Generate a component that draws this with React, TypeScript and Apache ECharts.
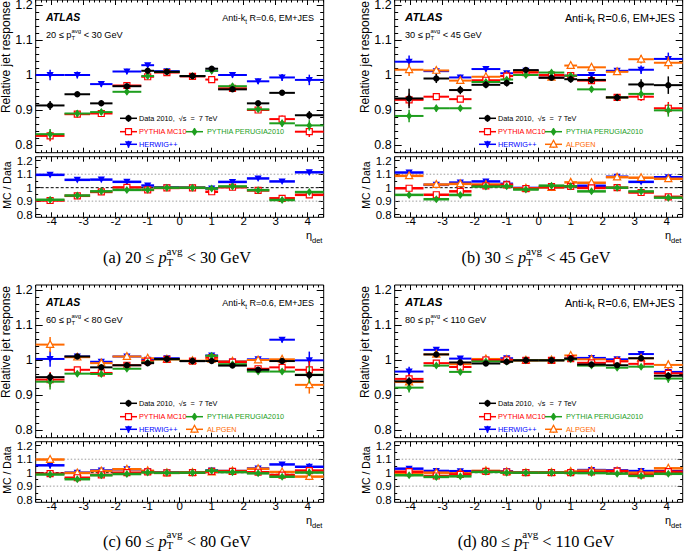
import React, { useEffect, useRef } from "react";
import * as echarts from "echarts";

// ---------------- data ----------------
const binEdges = [-4.5, -3.6, -2.8, -2.1, -1.2, -0.8, 0, 0.8, 1.2, 2.1, 2.8, 3.6, 4.5];
const binCenters = [-4.05, -3.2, -2.45, -1.65, -1.0, -0.4, 0.4, 1.0, 1.65, 2.45, 3.2, 4.05];

const xTickValues = [-4, -3, -2, -1, 0, 1, 2, 3, 4];
const yTickValues = [0.8, 0.9, 1.0, 1.1, 1.2];
const ratioGuideLines = [0.9, 1.1];
const ratioUnityLine = [1.0];

const panelLetters = ["(a)", "(b)", "(c)", "(d)"];
const ptLow = [20, 30, 60, 80];
const ptHigh = [30, 45, 80, 110];

// panel (a) 20-30 GeV
const dataA = [0.913, 0.945, 0.919, 0.968, 1.012, 1.009, 0.997, 1.018, 0.959, 0.919, 0.949, 0.885];
const dataErrA = [0.013, 0.005, 0.008, 0.006, 0.005, 0.004, 0.004, 0.006, 0.006, 0.006, 0.005, 0.012];
const herwigA = [1.0, 1.0, 0.974, 1.01, 1.028, 1.011, 0.997, 1.012, 1.0, 0.982, 0.993, 0.986];
const mc10A = [0.826, 0.888, 0.89, 0.97, 0.995, 1.007, 0.996, 0.987, 0.962, 0.9, 0.874, 0.838];
const perugiaA = [0.831, 0.89, 0.894, 0.952, 0.997, 1.009, 0.997, 1.012, 0.968, 0.902, 0.862, 0.856];
const mcErrA = [0.015, 0.01, 0.008, 0.008, 0.006, 0.004, 0.004, 0.006, 0.008, 0.008, 0.01, 0.015];

// panel (b) 30-45 GeV
const dataB = [0.933, 0.99, 0.957, 0.972, 0.977, 1.014, 0.992, 0.988, 0.986, 0.936, 0.973, 0.971];
const dataErrB = [0.028, 0.013, 0.012, 0.01, 0.01, 0.005, 0.005, 0.01, 0.01, 0.01, 0.015, 0.025];
const herwigB = [1.038, 1.011, 0.993, 1.017, 1.005, 1.012, 0.993, 0.998, 1.0, 1.012, 1.015, 1.046];
const mc10B = [0.929, 0.938, 0.931, 0.985, 0.997, 1.007, 1.0, 0.998, 0.984, 0.936, 0.938, 0.905];
const perugiaB = [0.883, 0.905, 0.905, 0.98, 0.987, 1.0, 1.007, 0.998, 0.959, 0.936, 0.946, 0.899];
const alpgenB = [1.015, 1.013, 0.984, 0.995, 0.997, 1.009, 0.993, 1.027, 1.022, 1.009, 1.045, 1.035];
const mcErrB = [0.018, 0.01, 0.008, 0.008, 0.006, 0.004, 0.004, 0.008, 0.008, 0.008, 0.012, 0.018];

// panel (c) 60-80 GeV
const dataC = [0.951, 1.01, 0.979, 0.985, 0.991, 1.003, 0.997, 0.997, 0.984, 0.972, 0.997, 0.957];
const dataErrC = [0.012, 0.007, 0.007, 0.006, 0.004, 0.003, 0.003, 0.004, 0.005, 0.005, 0.008, 0.012];
const herwigC = [1.003, 1.01, 0.995, 1.01, 1.001, 1.005, 0.997, 1.013, 0.996, 1.002, 1.058, 0.999];
const mc10C = [0.944, 0.972, 0.963, 0.985, 0.997, 1.002, 0.997, 1.007, 0.994, 0.975, 0.979, 0.972];
const perugiaC = [0.938, 0.961, 0.96, 0.975, 0.993, 1.002, 0.997, 1.012, 0.988, 0.967, 0.967, 0.958];
const alpgenC = [1.044, 1.008, 0.991, 1.01, 1.005, 1.002, 0.998, 1.002, 0.996, 1.0, 1.002, 0.929];
const mcErrC = [0.022, 0.008, 0.008, 0.006, 0.005, 0.003, 0.003, 0.005, 0.005, 0.006, 0.008, 0.025];

// panel (d) 80-110 GeV
const dataD = [0.939, 1.016, 0.993, 0.99, 0.995, 0.999, 0.999, 1.004, 0.987, 0.985, 1.005, 0.955];
const dataErrD = [0.012, 0.006, 0.006, 0.005, 0.004, 0.003, 0.003, 0.003, 0.005, 0.005, 0.008, 0.01];
const herwigD = [0.967, 1.029, 1.004, 1.001, 1.005, 1.0, 1.0, 1.004, 1.006, 1.002, 1.017, 0.966];
const mc10D = [0.946, 0.991, 0.98, 1.0, 1.0, 0.999, 0.999, 1.004, 0.992, 0.996, 0.989, 0.962];
const perugiaD = [0.921, 0.984, 0.966, 0.996, 0.995, 0.999, 0.999, 1.002, 0.984, 0.978, 0.981, 0.947];
const alpgenD = [0.937, 1.016, 0.988, 1.003, 1.001, 0.999, 1.0, 1.013, 1.002, 0.997, 1.005, 0.986];
const mcErrD = [0.014, 0.006, 0.006, 0.005, 0.004, 0.003, 0.003, 0.004, 0.005, 0.005, 0.007, 0.012];

// ---------------- styling / layout ----------------
const SANS = '"Liberation Sans", Arial, Helvetica, sans-serif';
const SERIF = '"Liberation Serif", "Times New Roman", Times, serif';

const STY: Record<string, { color: string; marker: string; label: string }> = {
  data: { color: "#000000", marker: "circle", label: "Data 2010,  \u221As  =  7 TeV" },
  mc10: { color: "#ff0000", marker: "openSquare", label: "PYTHIA MC10" },
  perugia: { color: "#1e9e1e", marker: "diamond", label: "PYTHIA PERUGIA2010" },
  herwig: { color: "#0000ff", marker: "invTri", label: "HERWIG++" },
  alpgen: { color: "#ff6a00", marker: "openTri", label: "ALPGEN" },
};
const MC_ORDER = ["herwig", "alpgen", "mc10", "perugia"];

const OX = [0, 359, 0, 359];
const OY = [0, 0, 285, 285];
const BOX_L = 35.7;
const BOX_W = 288;
const MAIN_H = 152.7;
const RATIO_T = 156.7;
const RATIO_H = 60.6;

function tickRange(a: number, b: number, step: number, skip: number[] = []) {
  const out: number[] = [];
  const n = Math.round((b - a) / step);
  for (let k = 0; k <= n; k++) {
    const v = Math.round((a + k * step) * 10000) / 10000;
    if (!skip.some((s) => Math.abs(s - v) < 1e-6)) out.push(v);
  }
  return out;
}
const xMinorTicks = tickRange(-4.5, 4.5, 1 / 6, xTickValues);
const yMainMinor = tickRange(0.78, 1.2, 0.02, yTickValues);
const yRatioMinor = tickRange(0.8, 1.2, 0.05, yTickValues);

let measureCtx: CanvasRenderingContext2D | null = null;
function tw(text: string, size: number, family: string, italic = false, bold = false) {
  if (!measureCtx) measureCtx = document.createElement("canvas").getContext("2d");
  measureCtx!.font = `${italic ? "italic" : "normal"} ${bold ? "bold" : "normal"} ${size}px ${family}`;
  return measureCtx!.measureText(text).width;
}

function textEl(x: number, y: number, text: string, size: number, family: string, fill: string, opts: any = {}) {
  const align = opts.align || "left";
  return {
    type: "text",
    x,
    y,
    rotation: opts.rotation || 0,
    silent: true,
    style: {
      text,
      fontSize: size,
      fontFamily: family,
      fontStyle: opts.italic ? "italic" : "normal",
      fontWeight: opts.bold ? "bold" : "normal",
      fill,
      align,
      textAlign: align,
      verticalAlign: "middle",
      textVerticalAlign: "middle",
    },
  };
}

type Piece = { t: string; s?: number; dy?: number; it?: boolean; adv?: boolean };
function richLine(els: any[], x: number, y: number, align: string, pieces: Piece[], size: number, family: string, fill: string) {
  const widths = pieces.map((p) => tw(p.t, size * (p.s || 1), family, !!p.it));
  let total = 0;
  pieces.forEach((p, i) => {
    if (p.adv !== false) total += widths[i];
  });
  let cur = align === "left" ? x : align === "center" ? x - total / 2 : x - total;
  pieces.forEach((p, i) => {
    els.push(textEl(cur, y + (p.dy || 0) * size, p.t, size * (p.s || 1), family, fill, { italic: p.it }));
    if (p.adv !== false) cur += widths[i];
  });
}

function markerEl(kind: string, cx: number, cy: number, color: string): any {
  switch (kind) {
    case "circle":
      return { type: "circle", shape: { cx, cy, r: 3.2 }, style: { fill: color } };
    case "openSquare":
      return { type: "rect", shape: { x: cx - 3, y: cy - 3, width: 6, height: 6 }, style: { fill: "#ffffff", stroke: color, lineWidth: 1.2 } };
    case "diamond":
      return { type: "polygon", shape: { points: [[cx, cy - 4], [cx + 3, cy], [cx, cy + 4], [cx - 3, cy]] }, style: { fill: color } };
    case "invTri":
      return { type: "polygon", shape: { points: [[cx - 3.6, cy - 3], [cx + 3.6, cy - 3], [cx, cy + 3.6]] }, style: { fill: color } };
    default:
      return { type: "polygon", shape: { points: [[cx, cy - 4], [cx + 3.6, cy + 2.8], [cx - 3.6, cy + 2.8]] }, style: { fill: "#ffffff", stroke: color, lineWidth: 1.2 } };
  }
}

function errSeries(key: string, xi: number, yi: number, rows: number[][], hw: number, vw: number, z: number) {
  const st = STY[key];
  return {
    type: "custom",
    name: key,
    xAxisIndex: xi,
    yAxisIndex: yi,
    z,
    clip: false,
    encode: { x: [0, 1, 2], y: [3] },
    data: rows,
    renderItem: (_p: any, api: any) => {
      const lo = api.value(0), hi = api.value(1), xc = api.value(2), v = api.value(3), e = api.value(4);
      const pL = api.coord([lo, v]);
      const pR = api.coord([hi, v]);
      const pC = api.coord([xc, v]);
      const pT = api.coord([xc, v + e]);
      const pB = api.coord([xc, v - e]);
      return {
        type: "group",
        children: [
          { type: "line", shape: { x1: pL[0], y1: pL[1], x2: pR[0], y2: pR[1] }, style: { stroke: st.color, lineWidth: hw } },
          { type: "line", shape: { x1: pT[0], y1: pT[1], x2: pB[0], y2: pB[1] }, style: { stroke: st.color, lineWidth: vw } },
          markerEl(st.marker, pC[0], pC[1], st.color),
        ],
      };
    },
  };
}

const panels = [
  { data: dataA, dataErr: dataErrA, mcErr: mcErrA, mc: { herwig: herwigA, mc10: mc10A, perugia: perugiaA } as Record<string, number[]> },
  { data: dataB, dataErr: dataErrB, mcErr: mcErrB, mc: { herwig: herwigB, alpgen: alpgenB, mc10: mc10B, perugia: perugiaB } as Record<string, number[]> },
  { data: dataC, dataErr: dataErrC, mcErr: mcErrC, mc: { herwig: herwigC, alpgen: alpgenC, mc10: mc10C, perugia: perugiaC } as Record<string, number[]> },
  { data: dataD, dataErr: dataErrD, mcErr: mcErrD, mc: { herwig: herwigD, alpgen: alpgenD, mc10: mc10D, perugia: perugiaD } as Record<string, number[]> },
];

function buildOption() {
  const grid: any[] = [];
  const xAxis: any[] = [];
  const yAxis: any[] = [];
  const series: any[] = [];
  const graphic: any[] = [];

  const tickStyle = { color: "#000000", width: 1 };
  const noLine = { show: false, onZero: false };
  const addX = (g: number, showLabels: boolean) => {
    const base = { gridIndex: g, type: "value", min: -4.5, max: 4.5, axisLine: noLine, splitLine: { show: false } };
    const idx = xAxis.length;
    const major = { show: true, inside: true, length: 5, customValues: xTickValues, lineStyle: tickStyle };
    const minor = { show: true, inside: true, length: 2.5, customValues: xMinorTicks, lineStyle: tickStyle };
    xAxis.push({
      ...base,
      position: "bottom",
      axisTick: major,
      axisLabel: { show: showLabels, customValues: xTickValues, fontSize: 11.5, fontFamily: SANS, color: "#000", margin: -2 },
    });
    xAxis.push({ ...base, position: "bottom", axisTick: minor, axisLabel: { show: false } });
    xAxis.push({ ...base, position: "top", axisTick: major, axisLabel: { show: false } });
    xAxis.push({ ...base, position: "top", axisTick: minor, axisLabel: { show: false } });
    return idx;
  };
  const addY = (g: number, min: number, max: number, labelSize: number, majLen: number, minLen: number, minorVals: number[]) => {
    const base = { gridIndex: g, type: "value", min, max, axisLine: noLine, splitLine: { show: false } };
    const idx = yAxis.length;
    const major = { show: true, inside: true, length: majLen, customValues: yTickValues, lineStyle: tickStyle };
    const minor = { show: true, inside: true, length: minLen, customValues: minorVals, lineStyle: tickStyle };
    yAxis.push({
      ...base,
      position: "left",
      axisTick: major,
      axisLabel: {
        show: true,
        customValues: yTickValues,
        fontSize: labelSize,
        fontFamily: SANS,
        color: "#000",
        margin: 3,
        formatter: (v: number) => String(Math.round(v * 10) / 10),
      },
    });
    yAxis.push({ ...base, position: "left", axisTick: minor, axisLabel: { show: false } });
    yAxis.push({ ...base, position: "right", axisTick: major, axisLabel: { show: false } });
    yAxis.push({ ...base, position: "right", axisTick: minor, axisLabel: { show: false } });
    return idx;
  };

  panels.forEach((p, pi) => {
    const ox = OX[pi];
    const oy = OY[pi];
    const right = pi % 2 === 1;
    const lower = pi >= 2;

    // ---- main pad ----
    const gMain = grid.length;
    grid.push({ left: BOX_L + ox, top: oy, width: BOX_W, height: MAIN_H, show: true, borderColor: "#000", borderWidth: 1, backgroundColor: "transparent", containLabel: false, outerBoundsMode: "none" });
    const xm = addX(gMain, false);
    const ym = addY(gMain, 0.778, 1.2143, 12.5, 7, 3.5, yMainMinor);

    // ---- ratio pad ----
    const gRatio = grid.length;
    grid.push({ left: BOX_L + ox, top: oy + RATIO_T, width: BOX_W, height: RATIO_H, show: true, borderColor: "#000", borderWidth: 1, backgroundColor: "transparent", containLabel: false, outerBoundsMode: "none" });
    const xr = addX(gRatio, true);
    const yr = addY(gRatio, 0.78, 1.23, 11.5, 5, 2.5, yRatioMinor);

    // reference lines in ratio pad
    ratioGuideLines.forEach((v) => {
      series.push({
        type: "line", xAxisIndex: xr, yAxisIndex: yr, symbol: "none", silent: true, z: 1,
        data: [[-4.5, v], [4.5, v]],
        lineStyle: { color: "#9a9a9a", width: 1, type: [1.5, 2] },
      });
    });
    ratioUnityLine.forEach((v) => {
      series.push({
        type: "line", xAxisIndex: xr, yAxisIndex: yr, symbol: "none", silent: true, z: 1,
        data: [[-4.5, v], [4.5, v]],
        lineStyle: { color: "#000000", width: 1, type: [3, 2] },
      });
    });

    // MC series
    MC_ORDER.forEach((key, k) => {
      const vals = p.mc[key];
      if (!vals) return;
      const rowsMain = binCenters.map((c, i) => [binEdges[i], binEdges[i + 1], c, vals[i], p.mcErr[i]]);
      series.push(errSeries(key, xm, ym, rowsMain, 2, 1.5, 3 + k));
      const rowsRatio = binCenters.map((c, i) => [binEdges[i], binEdges[i + 1], c, vals[i] / p.data[i], p.mcErr[i] / p.data[i]]);
      series.push(errSeries(key, xr, yr, rowsRatio, 2.5, 1.5, 3 + k));
    });
    // data
    const rowsData = binCenters.map((c, i) => [binEdges[i], binEdges[i + 1], c, p.data[i], p.dataErr[i]]);
    series.push(errSeries("data", xm, ym, rowsData, 2, 1.5, 10));

    // ---- texts ----
    graphic.push(textEl(ox + 6, oy + 1, "Relative jet response", 12, SANS, "#000", { align: "right", rotation: Math.PI / 2 }));
    graphic.push(textEl(ox + 7, oy + 161.5, "MC / Data", 10.5, SANS, "#000", { align: "right", rotation: Math.PI / 2 }));
    graphic.push(textEl(ox + 46, oy + 17, "ATLAS", right ? 11.5 : 10.5, SANS, "#000", { bold: true, italic: true }));
    richLine(graphic, ox + (right ? 316 : 314), oy + 18.3, "right",
      [{ t: "Anti-k" }, { t: "t", s: 0.7, dy: 0.3 }, { t: " R=0.6, EM+JES" }], right ? 10.8 : 9, SANS, "#000");
    richLine(graphic, ox + 46, oy + 35, "left",
      [{ t: `${ptLow[pi]} \u2264 ` }, { t: "p" }, { t: "T", s: 0.65, dy: 0.35, adv: false }, { t: "avg", s: 0.65, dy: -0.4 }, { t: ` < ${ptHigh[pi]} GeV` }],
      9.2, SANS, "#000");

    // eta_det label
    graphic.push(textEl(ox + 306, oy + 234.5, "\u03b7", 11, SANS, "#000"));
    graphic.push(textEl(ox + 312, oy + 240.5, "det", 7.5, SANS, "#000"));

    // caption
    richLine(graphic, ox + 177, oy + (lower ? 256 : 257.5), "center",
      [{ t: `${panelLetters[pi]} ${ptLow[pi]} \u2264 ` }, { t: "p", it: true }, { t: "T", s: 0.68, dy: 0.26, adv: false }, { t: "avg", s: 0.68, dy: -0.4 }, { t: ` < ${ptHigh[pi]} GeV` }],
      16.3, SERIF, "#000");

    // ---- legend ----
    const entries: [string, number, number][] = [
      ["data", 0, 0],
      ["mc10", 0, 1],
      ["perugia", 1, 1],
      ["herwig", 0, 2],
    ];
    if (p.mc.alpgen) entries.push(["alpgen", 1, 2]);
    const colMarker = [128.5, 194.5];
    const colText = [139, 207];
    const rowY = [118.3, 131.7, 144.3];
    entries.forEach(([key, col, row]) => {
      const st = STY[key];
      const cx = ox + colMarker[col];
      const cy = oy + rowY[row];
      graphic.push({ type: "line", silent: true, shape: { x1: cx - 8.5, y1: cy, x2: cx + 8.5, y2: cy }, style: { stroke: st.color, lineWidth: 1.5 } });
      graphic.push({ type: "line", silent: true, shape: { x1: cx, y1: cy - 3.5, x2: cx, y2: cy + 3.5 }, style: { stroke: st.color, lineWidth: 1.5 } });
      graphic.push({ ...markerEl(st.marker, cx, cy, st.color), silent: true });
      graphic.push(textEl(ox + colText[col], cy, st.label, 7.3, SANS, st.color));
    });
  });

  return {
    animation: false,
    backgroundColor: "#ffffff",
    grid,
    xAxis,
    yAxis,
    series,
    graphic: { elements: graphic },
  };
}

export default function App() {
  const ref = useRef<HTMLDivElement>(null);
  useEffect(() => {
    document.body.style.margin = "0";
    const chart = echarts.init(ref.current!, null, { renderer: "svg" });
    chart.setOption(buildOption() as any);
    return () => chart.dispose();
  }, []);
  return (
    <div
      ref={ref}
      style={{ position: "absolute", left: 0, top: 0, width: 685, height: 551, background: "#ffffff" }}
    />
  );
}
